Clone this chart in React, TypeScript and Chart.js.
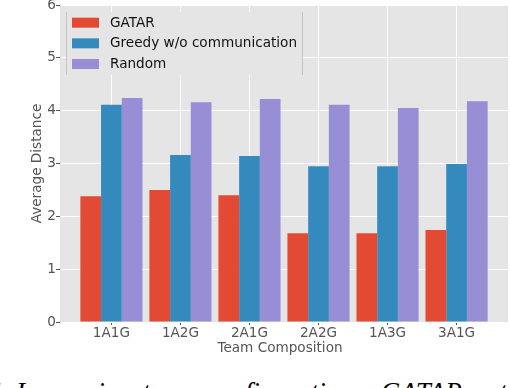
import React, { useEffect, useRef } from "react";
import { Chart, registerables } from "chart.js";

Chart.register(...registerables);

const categories = ["1A1G", "1A2G", "2A1G", "2A2G", "1A3G", "3A1G"];
const seriesNames = ["GATAR", "Greedy w/o communication", "Random"];
const gatar = [2.38, 2.5, 2.4, 1.68, 1.68, 1.74];
const greedy = [4.11, 3.16, 3.14, 2.95, 2.95, 2.99];
const random = [4.24, 4.16, 4.22, 4.11, 4.05, 4.18];
const seriesColors = ["#E24A33", "#348ABD", "#988ED5"];
const yMin = 0;
const yMax = 6;
const yStep = 1;
const xAxisTitle = "Team Composition";
const yAxisTitle = "Average Distance";
const captionLead = "Figure 5:";
const captionText = "In varying team configurations, GATAR outperforms the baselines";

const FONT = "DejaVu Sans";
const FS = 13.6;

const bgPlugin = {
  id: "bgPlugin",
  beforeDraw(chart: any) {
    const { ctx, chartArea } = chart;
    const { left, top, right, bottom } = chartArea;
    ctx.save();
    ctx.fillStyle = "#E5E5E5";
    ctx.fillRect(left, top, right - left, bottom - top);
    ctx.restore();
  },
};

const legendPlugin = {
  id: "legendPlugin",
  afterDatasetsDraw(chart: any) {
    const { ctx, chartArea } = chart;
    const lx = chartArea.left + 7;
    const ly = chartArea.top + 7;
    const w = 235;
    const h = 63;
    ctx.save();
    ctx.fillStyle = "#E5E5E5";
    ctx.fillRect(lx, ly, w, h);
    ctx.strokeStyle = "#C4C4C4";
    ctx.lineWidth = 1;
    ctx.beginPath();
    ctx.moveTo(lx - 0.5, ly);
    ctx.lineTo(lx - 0.5, ly + h);
    ctx.moveTo(lx + w + 0.5, ly);
    ctx.lineTo(lx + w + 0.5, ly + h);
    ctx.stroke();
    ctx.font = `${FS}px "${FONT}"`;
    ctx.textBaseline = "middle";
    ctx.textAlign = "left";
    seriesNames.forEach((name, i) => {
      const cy = ly + 10.7 + i * 20.65;
      ctx.fillStyle = seriesColors[i];
      ctx.fillRect(lx + 5, cy - 5, 27, 10);
      ctx.fillStyle = "#111";
      ctx.fillText(name, lx + 43, cy + 0.5);
    });
    ctx.restore();
  },
};

const xTitlePlugin = {
  id: "xTitlePlugin",
  afterDraw(chart: any) {
    const { ctx } = chart;
    ctx.save();
    ctx.font = `${FS}px "${FONT}"`;
    ctx.fillStyle = "#555555";
    ctx.textAlign = "center";
    ctx.textBaseline = "middle";
    ctx.fillText(xAxisTitle, 280, 348);
    ctx.restore();
  },
};

export default function App() {
  const canvasRef = useRef<HTMLCanvasElement | null>(null);

  useEffect(() => {
    if (!canvasRef.current) return;
    Chart.defaults.font.family = FONT;
    const series = [gatar, greedy, random];
    const chart = new Chart(canvasRef.current, {
      type: "bar",
      data: {
        datasets: series.map((vals, si) => ({
          label: seriesNames[si],
          data: vals.map((v, i) => ({ x: i, y: v })),
          backgroundColor: seriesColors[si],
          borderWidth: 0,
          categoryPercentage: 0.9,
          barPercentage: 1.0,
        })),
      },
      options: {
        responsive: false,
        animation: false,
        devicePixelRatio: 1,
        layout: { padding: { top: 5, right: 2, left: 0, bottom: 0 } },
        plugins: {
          legend: { display: false },
          tooltip: { enabled: false },
        },
        scales: {
          x: {
            type: "linear",
            bounds: "data",
            offset: false,
            min: -0.745,
            max: 5.745,
            afterBuildTicks: (s: any) => {
              s.ticks = categories.map((_, i) => ({ value: i }));
            },
            afterFit: (s: any) => {
              s.height = 38;
              s.paddingLeft = 0;
              s.paddingRight = 0;
            },
            ticks: {
              callback: (_v: any, idx: number) => categories[idx] ?? "",
              color: "#555555",
              font: { family: FONT, size: FS },
              padding: 0,
              maxRotation: 0,
              autoSkip: false,
            },
            grid: {
              offset: false,
              color: "#FFFFFF",
              lineWidth: 1,
              tickColor: "#555555",
              tickLength: 3,
            },
            border: { display: false },
          },
          y: {
            min: yMin,
            max: yMax,
            ticks: {
              stepSize: yStep,
              color: "#555555",
              font: { family: FONT, size: FS },
              padding: 0,
            },
            grid: { color: "#FFFFFF", lineWidth: 1, tickColor: "#555555", tickLength: 4 },
            border: { display: false },
            title: {
              display: true,
              text: yAxisTitle,
              color: "#555555",
              font: { family: FONT, size: FS },
              padding: { top: 29, bottom: 0 },
            },
            afterFit: (s: any) => {
              s.width = 60;
              s.paddingTop = 0;
              s.paddingBottom = 0;
            },
          },
        },
      },
      plugins: [bgPlugin, legendPlugin, xTitlePlugin],
    } as any);
    return () => chart.destroy();
  }, []);

  return (
    <div
      style={{
        position: "absolute",
        left: 0,
        top: 0,
        width: 510,
        height: 388,
        overflow: "hidden",
        background: "#fff",
      }}
    >
      <canvas
        ref={canvasRef}
        width={510}
        height={360}
        style={{ position: "absolute", left: 0, top: 0, width: 510, height: 360 }}
      />
      <div
        style={{
          position: "absolute",
          right: 500,
          top: 379,
          whiteSpace: "nowrap",
          fontFamily: '"Liberation Serif", serif',
          fontStyle: "italic",
          fontSize: 27,
          lineHeight: "27px",
          color: "#000",
        }}
      >
        {captionLead}
      </div>
      <div
        style={{
          position: "absolute",
          left: 16,
          top: 379,
          whiteSpace: "nowrap",
          fontFamily: '"Liberation Serif", serif',
          fontStyle: "italic",
          fontSize: 27,
          lineHeight: "27px",
          wordSpacing: 4,
          color: "#000",
        }}
      >
        {captionText}
      </div>
    </div>
  );
}
